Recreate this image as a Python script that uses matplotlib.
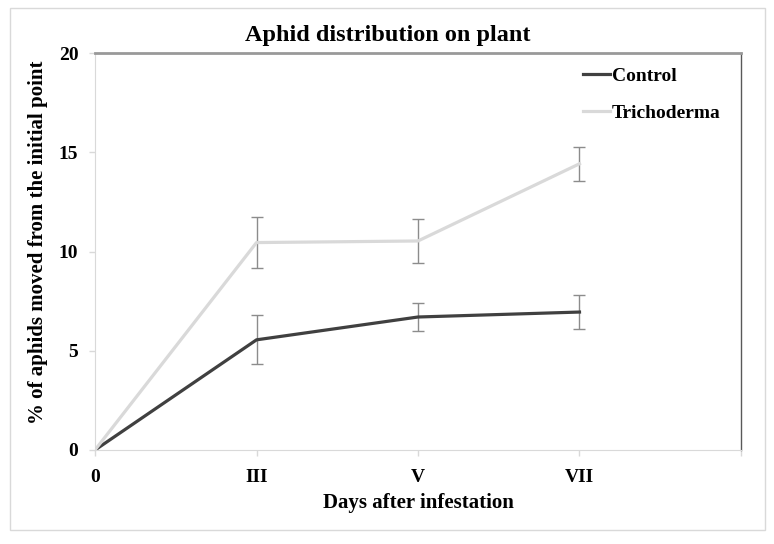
import matplotlib
matplotlib.use("Agg")
import matplotlib.pyplot as plt
from matplotlib.patches import Rectangle

days = ["0", "III", "V", "VII"]
control = [0, 5.55, 6.7, 6.95]
control_err = [0, 1.23, 0.73, 0.85]
tricho = [0, 10.45, 10.53, 14.42]
tricho_err = [0, 1.3, 1.13, 0.85]

plt.rcParams['font.family'] = ['Liberation Serif', 'DejaVu Serif']
plt.rcParams['font.weight'] = 'bold'

fig = plt.figure(figsize=(7.74, 5.44), dpi=100)
fig.patches.append(Rectangle((10/774, 1-530/544), 755/774, 522/544, transform=fig.transFigure,
                             fill=False, edgecolor='#d9d9d9', linewidth=1))
ax = fig.add_axes([95/774, 1-450/544, 646/774, 397/544])

x = list(range(len(days)))
ax.errorbar(x[1:], control[1:], yerr=control_err[1:], fmt='none', ecolor='#8c8c8c',
            elinewidth=1, capsize=4, capthick=1, zorder=2)
ax.errorbar(x[1:], tricho[1:], yerr=tricho_err[1:], fmt='none', ecolor='#8c8c8c',
            elinewidth=1, capsize=4, capthick=1, zorder=2)
ax.plot(x, control, color='#404040', linewidth=2.3, label='Control', zorder=3)
ax.plot(x, tricho, color='#d9d9d9', linewidth=2.3, label='Trichoderma', zorder=3)

ax.set_xlim(0, 4)
ax.set_ylim(0, 20)
ax.set_xticks([0, 1, 2, 3, 4])
ax.set_xticklabels(days + [""])
ax.set_yticks([0, 5, 10, 15, 20])
ax.tick_params(axis='both', labelsize=14, color='#d9d9d9', length=4, width=1)
ax.tick_params(axis='x', pad=10)
ax.tick_params(axis='y', pad=8)
for lab in ax.get_xticklabels() + ax.get_yticklabels():
    lab.set_fontweight('bold')

ax.spines['left'].set_color('#d9d9d9')
ax.spines['bottom'].set_color('#d9d9d9')
ax.spines['top'].set_color('#999999')
ax.spines['top'].set_linewidth(2)
ax.spines['right'].set_color('#595959')
ax.spines['right'].set_linewidth(1)

fig.text(388/774, 1-35/544, 'Aphid distribution on plant', fontsize=17.5, fontweight='bold',
         ha='center', va='center')
ax.set_xlabel('Days after infestation', fontsize=15, fontweight='bold', labelpad=5)
ax.set_ylabel('% of aphids moved from the initial point', fontsize=15, fontweight='bold')
ax.yaxis.set_label_coords(-0.073, 0.523)

leg = ax.legend(loc='upper left', frameon=False, fontsize=14, handlelength=1.4,
                handletextpad=0.1, labelspacing=1.0, borderpad=0, borderaxespad=0,
                bbox_to_anchor=(0.755, 0.965))
for t in leg.get_texts():
    t.set_fontweight('bold')

fig.savefig('out.png', dpi=100)
